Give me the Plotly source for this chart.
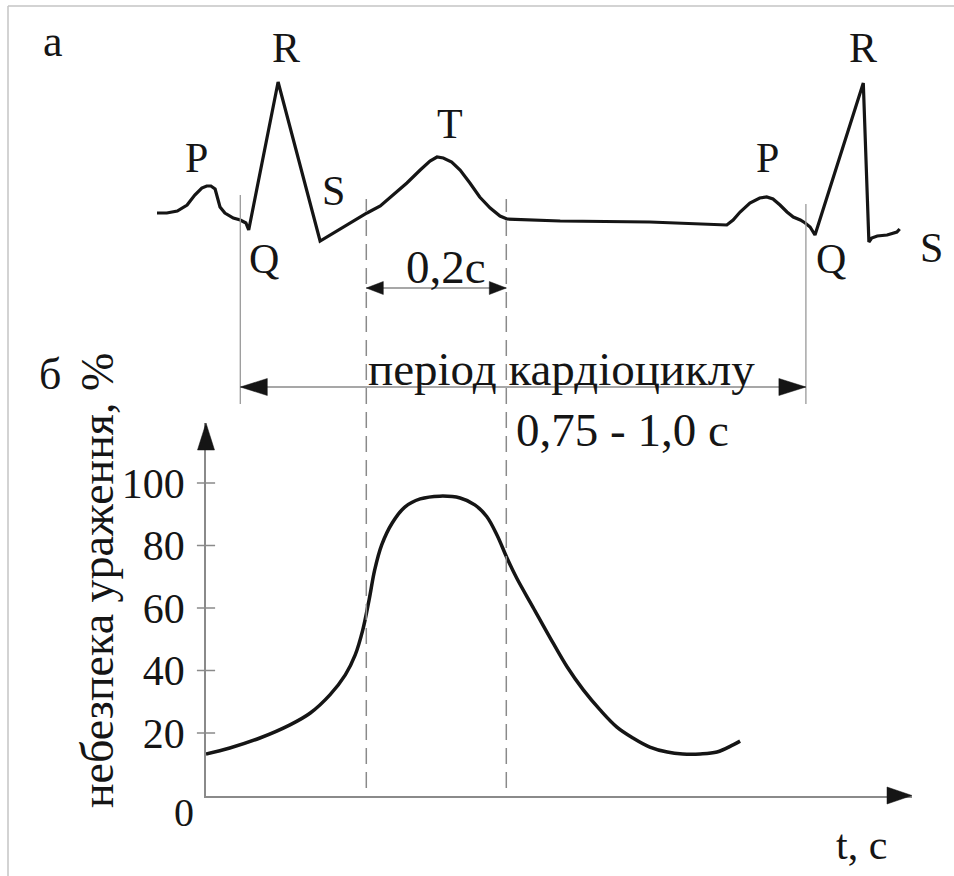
import plotly.graph_objects as go

W, H = 954, 876
FONT = "Liberation Serif"
INK = "#151515"
GREY = "#8a8a8a"

# ---------------- data ----------------
# a) ECG, time in s, amplitude in mV
ecg_t = [-0.070, -0.056, -0.041, -0.027, -0.016, -0.006, 0.001, 0.007, 0.013,
         0.016, 0.020, 0.027, 0.039, 0.049, 0.057, 0.061,
         0.103, 0.163,
         0.230, 0.249, 0.267, 0.287, 0.306, 0.320, 0.330, 0.339, 0.351, 0.363,
         0.377, 0.391, 0.406, 0.420, 0.430,
         0.506, 0.634, 0.744,
         0.753, 0.763, 0.777, 0.791, 0.801, 0.810, 0.820, 0.830, 0.839, 0.849,
         0.856, 0.863, 0.870,
         0.939, 0.947, 0.951, 0.959, 0.973, 0.987, 0.991]
ecg_mv = [0.07, 0.07, 0.09, 0.15, 0.25, 0.32, 0.34, 0.34, 0.31,
          0.23, 0.13, 0.07, 0.02, 0.00, -0.03, -0.10,
          1.38, -0.21,
          0.07, 0.14, 0.25, 0.37, 0.50, 0.59, 0.63, 0.62, 0.58, 0.50,
          0.37, 0.23, 0.12, 0.04, 0.01,
          -0.01, -0.02, -0.05,
          0.00, 0.08, 0.17, 0.22, 0.23, 0.21, 0.15, 0.08, 0.03, 0.00,
          -0.03, -0.07, -0.15,
          1.37, -0.22, -0.18, -0.16, -0.15, -0.12, -0.09]

# b) danger of injury, % vs time
danger_t = [0.000, 0.034, 0.077, 0.120, 0.149, 0.177, 0.199, 0.213, 0.224,
            0.233, 0.241, 0.251, 0.266, 0.284, 0.306, 0.334, 0.363, 0.384,
            0.401, 0.416, 0.430, 0.444, 0.467, 0.491, 0.516, 0.539, 0.563,
            0.587, 0.610, 0.634, 0.659, 0.681, 0.706, 0.730, 0.753, 0.763]
danger_pct = [13.3, 15.2, 18.4, 22.6, 26.4, 32.2, 38.6, 44.9, 53.0,
              62.6, 72.2, 80.2, 87.2, 92.3, 94.9, 95.8, 95.2, 93.0,
              89.3, 83.2, 76.0, 69.5, 60.3, 50.7, 41.1, 33.8, 27.4,
              21.9, 18.4, 15.5, 13.9, 13.3, 13.3, 13.9, 16.2, 17.4]

y_ticks = [20, 40, 60, 80, 100]
y_tick_labels = ["20", "40", "60", "80", "100"]

q_times = [0.049, 0.857]        # Q of two consecutive cycles
vuln_window = [0.229, 0.429]    # vulnerable phase, 0.2 s

# ---------------- geometry (pixels) ----------------
PX_PER_S = 700.0
X0_PX, XEND_PX = 206, 912
Y0_PX, YTOP_PX = 795.5, 423
PX_PER_PCT = 3.125
X_MAX = (XEND_PX - X0_PX) / PX_PER_S
Y_MAX = (Y0_PX - YTOP_PX) / PX_PER_PCT
ECG_BASE_PX, ECG_PX_PER_MV = 220, 100
ECG_TOP_PX, ECG_BOT_PX = 40, 300


def pp(x, y):
    return x / W, 1 - y / H


def py(y):
    return 1 - y / H


fig = go.Figure()

fig.add_trace(go.Scatter(x=ecg_t, y=ecg_mv, xaxis="x2", yaxis="y2", mode="lines",
                         line=dict(color=INK, width=3.2), hoverinfo="skip",
                         showlegend=False))
fig.add_trace(go.Scatter(x=danger_t, y=danger_pct, mode="lines",
                         line=dict(color=INK, width=3.5, shape="spline", smoothing=1.0),
                         hoverinfo="skip", showlegend=False))
# tick marks crossing the y axis
fig.add_trace(go.Scatter(x=[0] * len(y_ticks), y=y_ticks, mode="markers",
                         marker=dict(symbol="line-ew", size=13,
                                     line=dict(color=GREY, width=1.5)),
                         hoverinfo="skip", showlegend=False, cliponaxis=False))

shapes = []
# frame (top + left)
shapes.append(dict(type="line", xref="paper", yref="paper", x0=8 / W, x1=1.0,
                   y0=py(6), y1=py(6), line=dict(color="#c4c4c4", width=1.5)))
shapes.append(dict(type="line", xref="paper", yref="paper", x0=8 / W, x1=8 / W,
                   y0=py(6), y1=0, line=dict(color="#c4c4c4", width=1.5)))

# solid guide lines at Q
for t, ytop in zip(q_times, [195, 204]):
    shapes.append(dict(type="line", xref="x2", yref="paper", x0=t, x1=t,
                       y0=py(404), y1=py(ytop), line=dict(color="#999999", width=1.3)))
# dashed guide lines
for t in vuln_window:
    shapes.append(dict(type="line", xref="x2", yref="paper", x0=t, x1=t,
                       y0=py(788), y1=py(199),
                       line=dict(color=GREY, width=1.5, dash="16px,8px")))

# dimension lines
shapes.append(dict(type="line", xref="x2", yref="paper", x0=vuln_window[0],
                   x1=vuln_window[1], y0=py(288), y1=py(288),
                   line=dict(color=GREY, width=1.5)))
shapes.append(dict(type="line", xref="x2", yref="paper", x0=q_times[0],
                   x1=q_times[1], y0=py(387), y1=py(387),
                   line=dict(color=GREY, width=1.5)))


def harrow(t_tip, y_px, direction, length, half):
    tb = t_tip - direction * length / PX_PER_S
    yc, dy = py(y_px), half / H
    return dict(type="path", xref="x2", yref="paper",
                path=f"M{t_tip},{yc} L{tb},{yc + dy} L{tb},{yc - dy} Z",
                fillcolor=INK, line=dict(color=INK, width=0.5))


shapes.append(harrow(vuln_window[0], 288, -1, 17, 6.5))
shapes.append(harrow(vuln_window[1], 288, 1, 17, 6.5))
shapes.append(harrow(q_times[0], 387, -1, 27, 8.5))
shapes.append(harrow(q_times[1], 387, 1, 27, 8.5))


# axis arrows (paper coordinates so they are not clipped by the plot area)
def tri(p1, p2, p3):
    pts = [pp(*p) for p in (p1, p2, p3)]
    path = "M{},{} L{},{} L{},{} Z".format(*pts[0], *pts[1], *pts[2])
    return dict(type="path", xref="paper", yref="paper", path=path,
                fillcolor=INK, line=dict(color=INK, width=0.5))


shapes.append(tri((XEND_PX, Y0_PX), (XEND_PX - 25, Y0_PX - 8.5), (XEND_PX - 25, Y0_PX + 8.5)))
shapes.append(tri((X0_PX, YTOP_PX), (X0_PX - 8.5, YTOP_PX + 27), (X0_PX + 8.5, YTOP_PX + 27)))

ann = []


def label(text, x, y, size=42, **kw):
    ax, ay = pp(x, y)
    d = dict(text=text, x=ax, y=ay, xref="paper", yref="paper", showarrow=False,
             xanchor="center", yanchor="middle",
             font=dict(family=FONT, size=size, color=INK))
    d.update(kw)
    ann.append(d)


label("а", 53, 42, 44)
label("б", 50, 374, 44)
label("P", 196, 158)
label("R", 286, 48)
label("S", 333, 191)
label("Q", 264, 259)
label("T", 450, 124)
label("P", 767, 158)
label("R", 863, 48)
label("Q", 831, 259)
label("S", 931, 248)
label("0,2с", 446, 267, 47)
label("період кардіоциклу", 561, 369, 47)
label("0,75 - 1,0 с", 622, 430, 47)
label("t, c", 861, 845, 42)
label("0", 184, 812, 40)
label("небезпека ураження, %", 97, 581, 46, textangle=-90)

fig.update_layout(
    width=W, height=876, margin=dict(l=0, r=0, t=0, b=0),
    paper_bgcolor="white", plot_bgcolor="rgba(0,0,0,0)",
    font=dict(family=FONT, color=INK),
    showlegend=False,
    xaxis=dict(domain=[X0_PX / W, XEND_PX / W], range=[0, X_MAX], anchor="y",
               showline=True, linecolor=GREY, linewidth=1.5, showgrid=False,
               zeroline=False, showticklabels=False, ticks=""),
    yaxis=dict(domain=[py(Y0_PX), py(YTOP_PX)], range=[0, Y_MAX], anchor="x",
               showline=True, linecolor=GREY, linewidth=1.5, showgrid=False,
               zeroline=False, ticks="", tickvals=y_ticks, ticktext=y_tick_labels,
               ticklabelstandoff=11,
               tickfont=dict(family=FONT, size=42, color=INK)),
    xaxis2=dict(domain=[0, 1], range=[-X0_PX / PX_PER_S, (W - X0_PX) / PX_PER_S],
                anchor="y2", visible=False),
    yaxis2=dict(domain=[py(ECG_BOT_PX), py(ECG_TOP_PX)],
                range=[(ECG_BASE_PX - ECG_BOT_PX) / ECG_PX_PER_MV,
                       (ECG_BASE_PX - ECG_TOP_PX) / ECG_PX_PER_MV],
                anchor="x2", visible=False),
    shapes=shapes,
    annotations=ann,
)

fig.write_html(
    "out.html",
    config={"displayModeBar": False},
    post_script="document.body.style.margin='0';document.body.style.overflow='hidden';",
)
